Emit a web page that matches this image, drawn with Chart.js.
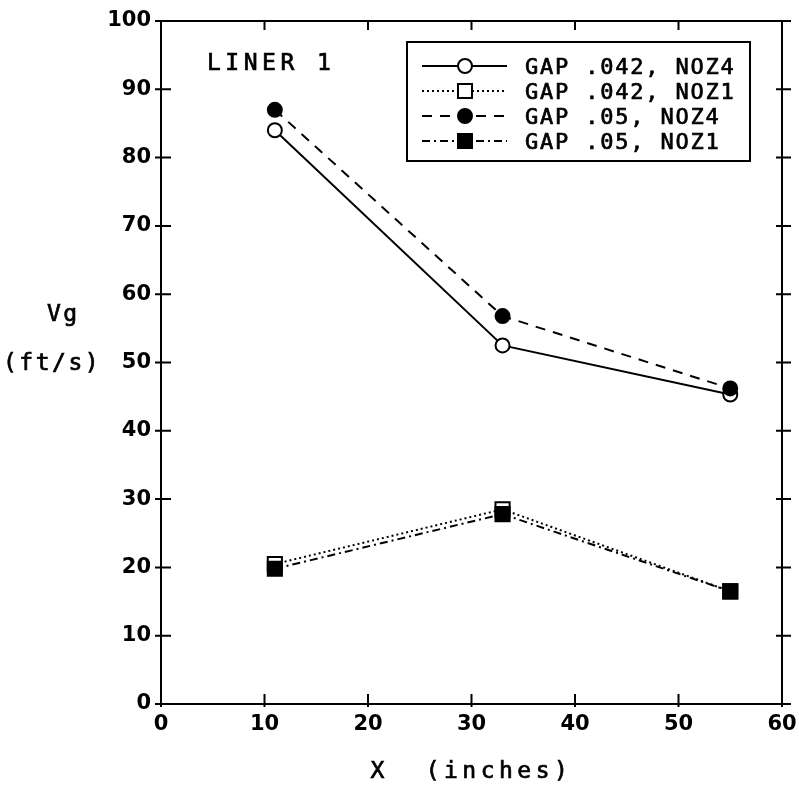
<!DOCTYPE html>
<html>
<head>
<meta charset="utf-8">
<script src="https://cdn.jsdelivr.net/npm/chart.js@4.4.1/dist/chart.umd.min.js"></script>
<style>
  html, body { margin: 0; padding: 0; background: #fff; }
  #wrap { width: 799px; height: 806px; }
</style>
</head>
<body>
<div id="wrap"><canvas id="chart" width="799" height="806"></canvas></div>
<script>
// data
const xPositions = [11, 33, 55];
const gap042Noz4 = [84.0, 52.5, 45.3];
const gap042Noz1 = [20.5, 28.5, 16.5];
const gap05Noz4 = [87.0, 56.8, 46.2];
const gap05Noz1 = [19.8, 27.8, 16.5];
const seriesLabels = ['GAP .042, NOZ4', 'GAP .042, NOZ1', 'GAP .05, NOZ4', 'GAP .05, NOZ1'];
const xTicks = [0, 10, 20, 30, 40, 50, 60];
const yTicks = [0, 10, 20, 30, 40, 50, 60, 70, 80, 90, 100];

const MONO = '"DejaVu Sans Mono", monospace';
const SANS = '"DejaVu Sans", sans-serif';

function toPoints(ys) {
    return xPositions.map((x, i) => ({ x: x, y: ys[i] }));
}

function makeSet(label, ys, dash, style, filled) {
    return {
        label: label,
        data: toPoints(ys),
        borderColor: '#000',
        borderWidth: 2,
        borderDash: dash,
        pointStyle: style,
        pointRadius: style === 'rect' ? 10 : 7,
        pointBorderWidth: 2,
        pointBorderColor: '#000',
        pointBackgroundColor: filled ? '#000' : '#fff',
        order: filled ? 0 : 1, // filled marks sit on top
        tension: 0,
        fill: false
    };
}

const datasets = [
    makeSet(seriesLabels[0], gap042Noz4, [], 'circle', false),
    makeSet(seriesLabels[1], gap042Noz1, [2, 3], 'rect', false),
    makeSet(seriesLabels[2], gap05Noz4, [10, 8], 'circle', true),
    makeSet(seriesLabels[3], gap05Noz1, [8, 4, 2, 4], 'rect', true)
];

// heavier typewriter-ish text: fill plus a thin stroke
function typeText(ctx, s, x, y) {
    ctx.fillText(s, x, y);
    ctx.strokeText(s, x, y);
}

// frame, inside ticks, labels and the boxed legend
const framePlugin = {
    id: 'frame',
    afterDraw(chart) {
        const ctx = chart.ctx;
        const a = chart.chartArea;
        const xs = chart.scales.x, ys = chart.scales.y;
        ctx.save();
        ctx.strokeStyle = '#000';
        ctx.lineWidth = 2;
        ctx.setLineDash([]);
        ctx.strokeRect(a.left, a.top, a.right - a.left, a.bottom - a.top);

        ctx.beginPath();
        xTicks.forEach(v => {
            const px = xs.getPixelForValue(v);
            ctx.moveTo(px, a.bottom + 3); ctx.lineTo(px, a.bottom - 10);
            ctx.moveTo(px, a.top); ctx.lineTo(px, a.top + 9);
        });
        yTicks.forEach(v => {
            const py = ys.getPixelForValue(v);
            ctx.moveTo(a.left - 6, py); ctx.lineTo(a.left + 10, py);
            ctx.moveTo(a.right - 6, py); ctx.lineTo(a.right + 9, py);
        });
        ctx.stroke();

        ctx.fillStyle = '#000';
        ctx.lineWidth = 0.7;
        ctx.textBaseline = 'alphabetic';
        ctx.font = '23px ' + MONO;
        ctx.letterSpacing = '4.5px';
        ctx.textAlign = 'left';
        typeText(ctx, 'LINER 1', a.left + 46, a.top + 49);

        ctx.letterSpacing = '2.5px';
        typeText(ctx, 'Vg', 47, 321);
        typeText(ctx, '(ft/s)', 3, 370);

        ctx.letterSpacing = '4.5px';
        ctx.textAlign = 'center';
        typeText(ctx, 'X  (inches)', (a.left + a.right) / 2, 778);

        // legend box
        const bx = a.right - 375, by = a.top + 21, bw = 343, bh = 119;
        ctx.lineWidth = 2;
        ctx.strokeRect(bx, by, bw, bh);
        ctx.font = '22px ' + MONO;
        ctx.letterSpacing = '1.8px';
        ctx.textAlign = 'left';
        chart.data.datasets.forEach((ds, i) => {
            const ry = by + 24 + i * 25;
            ctx.beginPath();
            ctx.setLineDash(ds.borderDash);
            ctx.lineWidth = ds.borderWidth;
            ctx.moveTo(bx + 15, ry);
            ctx.lineTo(bx + 100, ry);
            ctx.stroke();
            ctx.setLineDash([]);
            ctx.fillStyle = ds.pointBackgroundColor;
            ctx.lineWidth = 2;
            const mx = bx + 58;
            ctx.beginPath();
            if (ds.pointStyle === 'circle') {
                ctx.arc(mx, ry, 7, 0, Math.PI * 2);
            } else {
                ctx.rect(mx - 7, ry - 7, 14, 14);
            }
            ctx.fill();
            ctx.stroke();
            ctx.fillStyle = '#000';
            ctx.lineWidth = 0.7;
            typeText(ctx, ds.label, bx + 118, ry + 8);
        });
        ctx.restore();
    }
};

new Chart(document.getElementById('chart'), {
    type: 'line',
    data: { datasets: datasets },
    options: {
        responsive: false,
        animation: false,
        layout: { padding: { top: 21, right: 17, left: 0, bottom: 0 } },
        plugins: { legend: { display: false }, tooltip: { enabled: false } },
        scales: {
            x: {
                type: 'linear',
                min: 0, max: 60,
                afterFit: s => { s.height = 102; s.paddingLeft = 0; s.paddingRight = 0; },
                afterBuildTicks: s => { s.ticks = xTicks.map(v => ({ value: v })); },
                grid: { display: false, drawTicks: false },
                border: { display: false },
                ticks: { color: '#000', padding: 8, font: { family: SANS, size: 21, weight: 'bold' } }
            },
            y: {
                min: 0, max: 100,
                afterFit: s => { s.width = 161; s.paddingTop = 0; s.paddingBottom = 0; },
                afterBuildTicks: s => { s.ticks = yTicks.map(v => ({ value: v })); },
                grid: { display: false, drawTicks: false },
                border: { display: false },
                ticks: { color: '#000', padding: 10, font: { family: SANS, size: 21, weight: 'bold' } }
            }
        }
    },
    plugins: [framePlugin]
});
</script>
</body>
</html>
